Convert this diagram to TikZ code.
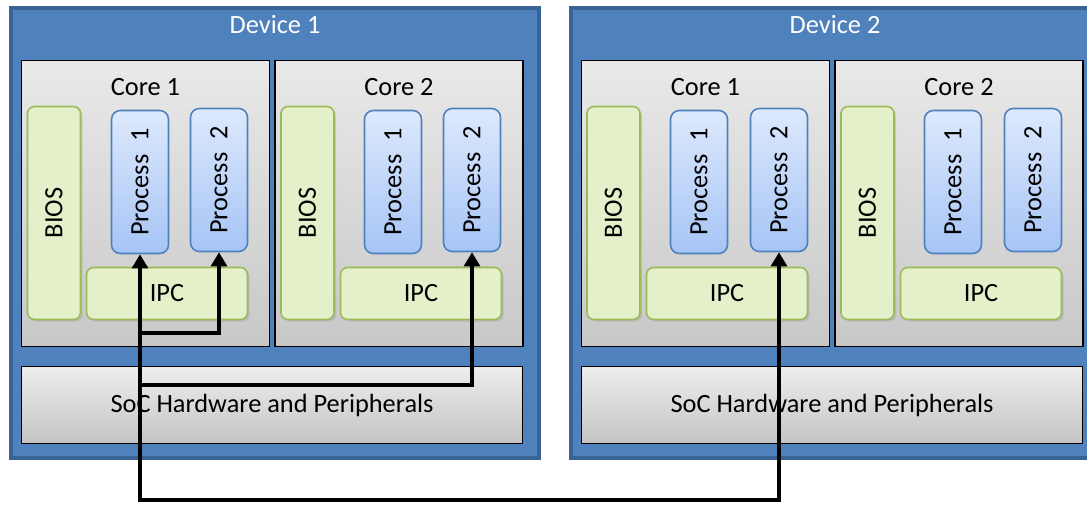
\documentclass[tikz,border=0pt]{standalone}
\usepackage{fontspec}
\setmainfont{Carlito}
\usetikzlibrary{arrows.meta,positioning,shadows}

\definecolor{devblue}{HTML}{4F81BD}
\definecolor{devedge}{HTML}{3B6496}
\definecolor{biosfill}{HTML}{E3F0CA}
\definecolor{biosedge}{HTML}{9BBB59}
\definecolor{proctop}{HTML}{DDE9FC}
\definecolor{procbot}{HTML}{A6C4F6}
\definecolor{coretop}{HTML}{E9E9E9}
\definecolor{corebot}{HTML}{C8C8C8}

\tikzset{
  device/.style={rectangle,draw=devedge,line width=2.5pt,fill=devblue,
    minimum width=10.56cm,minimum height=9.0cm,inner sep=0pt},
  devlabel/.style={text=white,font=\fontsize{15}{18}\selectfont,inner sep=1pt},
  core/.style={rectangle,draw=black,line width=0.9pt,top color=coretop,bottom color=corebot,
    minimum width=4.96cm,minimum height=5.72cm,inner sep=0pt},
  corelabel/.style={font=\fontsize{15}{18}\selectfont,inner sep=1pt},
  bios/.style={rectangle,rounded corners=4pt,draw=biosedge,line width=0.9pt,fill=biosfill,
    minimum width=1.06cm,minimum height=4.26cm,inner sep=0pt,
    font=\fontsize{15}{18}\selectfont,
    drop shadow={shadow xshift=1.2pt,shadow yshift=-1.2pt,opacity=0.25}},
  ipc/.style={bios,minimum width=3.22cm,minimum height=1.04cm},
  proc/.style={rectangle,rounded corners=5pt,draw=devblue,line width=0.9pt,
    top color=proctop,bottom color=procbot,
    minimum width=1.14cm,minimum height=2.86cm,inner sep=0pt,
    font=\fontsize{15}{18}\selectfont},
  soc/.style={rectangle,draw=black,line width=0.9pt,top color=white!93!black,bottom color=white!77!black,
    minimum width=10.02cm,minimum height=1.54cm,inner sep=0pt,
    font=\fontsize{15}{18}\selectfont},
  ipcarrow/.style={draw=black,line width=2.3pt},
}

\begin{document}
\begin{tikzpicture}[x=0.02cm,y=-0.02cm]
\clip (0,0) rectangle (1087,505);
% Device 1
\node[device] (dev1) at (275,233) {};
\node[devlabel] (dev1title) at (275,25) {Device 1};
\node[core] (d1c1) at (145.5,203.5) {};
\node[corelabel] (d1c1title) at (145.5,87) {Core 1};
\node[bios] (d1c1bios) at (54,213) {\rotatebox{90}{BIOS}};
\node[proc] (d1c1p1) at (140,182) {\rotatebox{90}{Process\enspace 1}};
\node[proc] (d1c1p2) at (219,180) {\rotatebox{90}{Process\enspace 2}};
\node[ipc] (d1c1ipc) at (167,293.5) {IPC};
\node[core] (d1c2) at (399,203.5) {};
\node[corelabel] (d1c2title) at (399,87) {Core 2};
\node[bios] (d1c2bios) at (307.5,213) {\rotatebox{90}{BIOS}};
\node[proc] (d1c2p1) at (393,182) {\rotatebox{90}{Process\enspace 1}};
\node[proc] (d1c2p2) at (472,180) {\rotatebox{90}{Process\enspace 2}};
\node[ipc] (d1c2ipc) at (421,293.5) {IPC};
\node[soc] (d1soc) at (272,405) {SoC Hardware and Peripherals};
% Device 2
\node[device] (dev2) at (835,233) {};
\node[devlabel] (dev2title) at (835,25) {Device 2};
\node[core] (d2c1) at (705.5,203.5) {};
\node[corelabel] (d2c1title) at (705.5,87) {Core 1};
\node[bios] (d2c1bios) at (613.5,213) {\rotatebox{90}{BIOS}};
\node[proc] (d2c1p1) at (699,182) {\rotatebox{90}{Process\enspace 1}};
\node[proc] (d2c1p2) at (779,180) {\rotatebox{90}{Process\enspace 2}};
\node[ipc] (d2c1ipc) at (727,293.5) {IPC};
\node[core] (d2c2) at (959,203.5) {};
\node[corelabel] (d2c2title) at (959,87) {Core 2};
\node[bios] (d2c2bios) at (867.5,213) {\rotatebox{90}{BIOS}};
\node[proc] (d2c2p1) at (953,182) {\rotatebox{90}{Process\enspace 1}};
\node[proc] (d2c2p2) at (1033,180) {\rotatebox{90}{Process\enspace 2}};
\node[ipc] (d2c2ipc) at (981,293.5) {IPC};
\node[soc] (d2soc) at (832,405) {SoC Hardware and Peripherals};
% IPC paths
\coordinate (bend) at (140,500);
\coordinate (split1) at (140,333);
\coordinate (split2) at (140,385);
\draw[ipcarrow,{Triangle[length=8pt,width=9pt]}-{Triangle[length=8pt,width=9pt]}]
  (d1c1p1.south) -- (bend) -| (d2c1p2.south);
\draw[ipcarrow,-{Triangle[length=8pt,width=9pt]}] (split1) -| (d1c1p2.south);
\draw[ipcarrow,-{Triangle[length=8pt,width=9pt]}] (split2) -| (d1c2p2.south);
\end{tikzpicture}
\end{document}
